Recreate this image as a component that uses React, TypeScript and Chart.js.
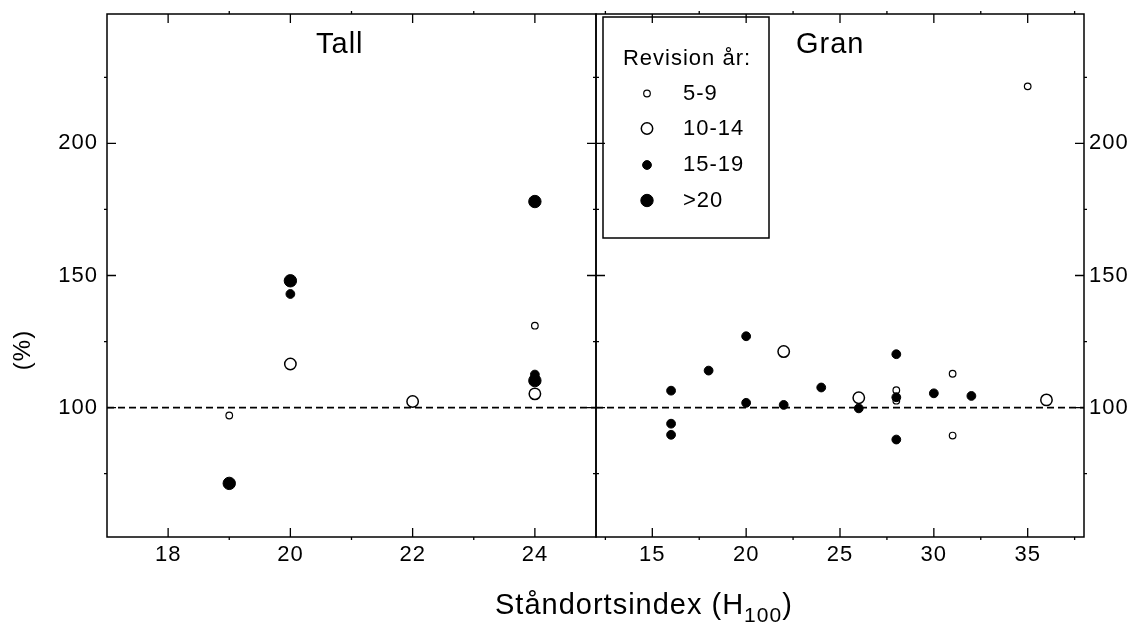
import React, { useEffect, useRef } from 'react';
import { Chart, registerables } from 'chart.js';
Chart.register(...registerables);

const W = 1137;
const H = 623;
const FONT = '"Liberation Sans", Arial, Helvetica, sans-serif';

// ---------- axes ----------
const yMin = 51;
const yMax = 249;
const yMajor = [100, 150, 200];
const yMinor = [75, 125, 175, 225];
const refValue = 100;

const tallRange = [17, 25];
const tallMajor = [18, 20, 22, 24];
const tallMinor = [19, 21, 23];
const granRange = [12, 38];
const granMajor = [15, 20, 25, 30, 35];
const granMinor = [12.5, 17.5, 22.5, 27.5, 32.5, 37.5];

// ---------- legend classes / texts ----------
const classes = ['5-9', '10-14', '15-19', '>20'];
const legendTitle = 'Revision år:';
const tallTitle = 'Tall';
const granTitle = 'Gran';
const yTitle = '(%)';
const xTitleMain = 'Ståndortsindex (H';
const xTitleSub = '100';
const xTitleEnd = ')';

// ---------- data: Tall ----------
const tallX_5_9 = [19, 24];
const tallY_5_9 = [97, 131];
const tallX_10_14 = [20, 22, 24];
const tallY_10_14 = [116.5, 102.3, 105.2];
const tallX_15_19 = [20, 24];
const tallY_15_19 = [143, 112.5];
const tallX_20 = [19, 20, 24, 24];
const tallY_20 = [71.3, 148, 178, 110.2];

// ---------- data: Gran ----------
const granX_5_9 = [28, 28, 31, 31, 35];
const granY_5_9 = [106.6, 102.6, 112.8, 89.4, 221.6];
const granX_10_14 = [22, 26, 36];
const granY_10_14 = [121.2, 103.7, 102.9];
const granX_15_19 = [16, 16, 16, 18, 20, 20, 22, 24, 26, 28, 28, 28, 30, 32];
const granY_15_19 = [106.4, 93.9, 89.7, 114, 127, 101.8, 101, 107.6, 99.7, 120.2, 103.9, 87.9, 105.4, 104.4];
const granX_20: number[] = [];
const granY_20: number[] = [];

// ---------- styles ----------
const markerStyle = [
  { radius: 3.3, borderWidth: 1.2, fill: false },
  { radius: 5.7, borderWidth: 1.5, fill: false },
  { radius: 4.4, borderWidth: 1, fill: true },
  { radius: 6.2, borderWidth: 1, fill: true },
];

const zip = (xs: number[], ys: number[]) => xs.map((x, i) => ({ x, y: ys[i] }));

const decoPlugin = {
  id: 'deco',
  beforeUpdate(chart: any) {
    chart.ctx.letterSpacing = '1px';
  },
  beforeDraw(chart: any) {
    chart.ctx.letterSpacing = '1px';
  },
  afterDraw(chart: any, _args: any, opts: any) {
    const { ctx, chartArea: a } = chart;
    const xs = chart.scales.x;
    const ys = chart.scales.y;
    ctx.save();
    ctx.letterSpacing = '1px';
    ctx.strokeStyle = '#000';
    ctx.fillStyle = '#000';
    // frame
    ctx.lineWidth = 1.5;
    ctx.strokeRect(a.left, a.top, a.right - a.left, a.bottom - a.top);
    // ticks
    ctx.lineWidth = 1.3;
    ctx.beginPath();
    for (const v of opts.xMajor) {
      const px = xs.getPixelForValue(v);
      ctx.moveTo(px, a.bottom); ctx.lineTo(px, a.bottom - 9);
      ctx.moveTo(px, a.top); ctx.lineTo(px, a.top + 9);
    }
    for (const v of opts.xMinor) {
      const px = xs.getPixelForValue(v);
      ctx.moveTo(px, a.bottom); ctx.lineTo(px, a.bottom + 3);
      ctx.moveTo(px, a.top); ctx.lineTo(px, a.top - 3);
    }
    for (const v of yMajor) {
      const py = ys.getPixelForValue(v);
      ctx.moveTo(a.left, py); ctx.lineTo(a.left + 9, py);
      ctx.moveTo(a.right, py); ctx.lineTo(a.right - 9, py);
    }
    for (const v of yMinor) {
      const py = ys.getPixelForValue(v);
      ctx.moveTo(a.left, py); ctx.lineTo(a.left - 3, py);
      ctx.moveTo(a.right, py); ctx.lineTo(a.right + 3, py);
    }
    ctx.stroke();

    // panel title
    ctx.font = `29px ${FONT}`;
    ctx.textAlign = 'left';
    ctx.textBaseline = 'alphabetic';
    ctx.fillText(opts.title, opts.titleX, 53);

    if (opts.yTitle) {
      ctx.save();
      ctx.translate(23, 350);
      ctx.rotate(-Math.PI / 2);
      ctx.font = `24px ${FONT}`;
      ctx.textAlign = 'center';
      ctx.textBaseline = 'middle';
      ctx.fillText(yTitle, 0, 0);
      ctx.restore();
    }

    if (opts.legend) {
      ctx.lineWidth = 1.5;
      ctx.strokeRect(603, 17, 166, 221);
      ctx.font = `22px ${FONT}`;
      ctx.textAlign = 'center';
      ctx.textBaseline = 'alphabetic';
      ctx.fillText(legendTitle, 687, 65);
      const rowY = [93.5, 128.5, 165, 200.5];
      classes.forEach((c, i) => {
        const st = markerStyle[i];
        ctx.beginPath();
        ctx.arc(647, rowY[i], st.radius, 0, Math.PI * 2);
        ctx.fillStyle = st.fill ? '#000' : '#fff';
        ctx.fill();
        ctx.lineWidth = st.borderWidth;
        ctx.strokeStyle = '#000';
        ctx.stroke();
        ctx.fillStyle = '#000';
        ctx.textAlign = 'left';
        ctx.textBaseline = 'middle';
        ctx.fillText(c, 683, rowY[i]);
      });

      // x axis title
      ctx.textBaseline = 'alphabetic';
      ctx.textAlign = 'left';
      ctx.font = `29px ${FONT}`;
      const x0 = 495;
      ctx.fillText(xTitleMain, x0, 614);
      const w1 = ctx.measureText(xTitleMain).width;
      ctx.font = `21px ${FONT}`;
      ctx.fillText(xTitleSub, x0 + w1, 622);
      const w2 = ctx.measureText(xTitleSub).width;
      ctx.font = `29px ${FONT}`;
      ctx.fillText(xTitleEnd, x0 + w1 + w2, 614);
    }
    ctx.restore();
  },
};

const zeroPad = (s: any) => {
  s.paddingTop = 0;
  s.paddingBottom = 0;
  s.paddingLeft = 0;
  s.paddingRight = 0;
};

function makeConfig(panel: 'tall' | 'gran'): any {
  const isTall = panel === 'tall';
  const range = isTall ? tallRange : granRange;
  const major = isTall ? tallMajor : granMajor;
  const minor = isTall ? tallMinor : granMinor;
  const series = isTall
    ? [zip(tallX_5_9, tallY_5_9), zip(tallX_10_14, tallY_10_14), zip(tallX_15_19, tallY_15_19), zip(tallX_20, tallY_20)]
    : [zip(granX_5_9, granY_5_9), zip(granX_10_14, granY_10_14), zip(granX_15_19, granY_15_19), zip(granX_20, granY_20)];

  const datasets: any[] = series.map((data, i) => {
    const st = markerStyle[i];
    return {
      type: 'scatter',
      label: classes[i],
      data,
      pointRadius: st.radius,
      pointBorderWidth: st.borderWidth,
      pointBackgroundColor: st.fill ? '#000' : '#fff',
      pointBorderColor: '#000',
      showLine: false,
      order: 4 - i,
    };
  });
  datasets.push({
    type: 'line',
    label: 'ref',
    data: [
      { x: range[0], y: refValue },
      { x: range[1], y: refValue },
    ],
    borderColor: '#000',
    borderWidth: 1.8,
    borderDash: [7, 4],
    pointRadius: 0,
    fill: false,
    order: 10,
  });

  const tickFont = { family: FONT, size: 22 };

  return {
    type: 'scatter',
    data: { datasets },
    plugins: [decoPlugin],
    options: {
      responsive: false,
      animation: false,
      devicePixelRatio: 1,
      events: [],
      layout: {
        padding: isTall
          ? { left: 0, top: 14, right: W - 596, bottom: 0 }
          : { left: 596, top: 14, right: 0, bottom: 0 },
      },
      plugins: {
        legend: { display: false },
        tooltip: { enabled: false },
        deco: {
          xMajor: major,
          xMinor: minor,
          title: isTall ? tallTitle : granTitle,
          titleX: isTall ? 316 : 796,
          yTitle: isTall,
          legend: !isTall,
        },
      },
      scales: {
        x: {
          type: 'linear',
          min: range[0],
          max: range[1],
          afterBuildTicks: (s: any) => {
            s.ticks = major.map((v) => ({ value: v }));
          },
          afterFit: (s: any) => {
            s.height = H - 537;
            zeroPad(s);
          },
          grid: { display: false, drawTicks: false },
          border: { display: false },
          ticks: { font: tickFont, color: '#000', padding: 5, autoSkip: false, maxRotation: 0 },
        },
        y: {
          type: 'linear',
          position: isTall ? 'left' : 'right',
          min: yMin,
          max: yMax,
          afterBuildTicks: (s: any) => {
            s.ticks = yMajor.map((v) => ({ value: v }));
          },
          afterFit: (s: any) => {
            s.width = isTall ? 107 : W - 1084;
            zeroPad(s);
          },
          grid: { display: false, drawTicks: false },
          border: { display: false },
          ticks: { font: tickFont, color: '#000', padding: isTall ? 9 : 5 },
        },
      },
    },
  };
}

export default function App() {
  const refA = useRef<HTMLCanvasElement>(null);
  const refB = useRef<HTMLCanvasElement>(null);
  useEffect(() => {
    const a = new Chart(refA.current as HTMLCanvasElement, makeConfig('tall'));
    const b = new Chart(refB.current as HTMLCanvasElement, makeConfig('gran'));
    return () => {
      a.destroy();
      b.destroy();
    };
  }, []);
  const cs: React.CSSProperties = { position: 'absolute', left: 0, top: 0, width: W, height: H };
  return (
    <div style={{ position: 'absolute', left: 0, top: 0, width: W, height: H, background: '#fff' }}>
      <canvas ref={refB} width={W} height={H} style={cs} />
      <canvas ref={refA} width={W} height={H} style={cs} />
    </div>
  );
}
